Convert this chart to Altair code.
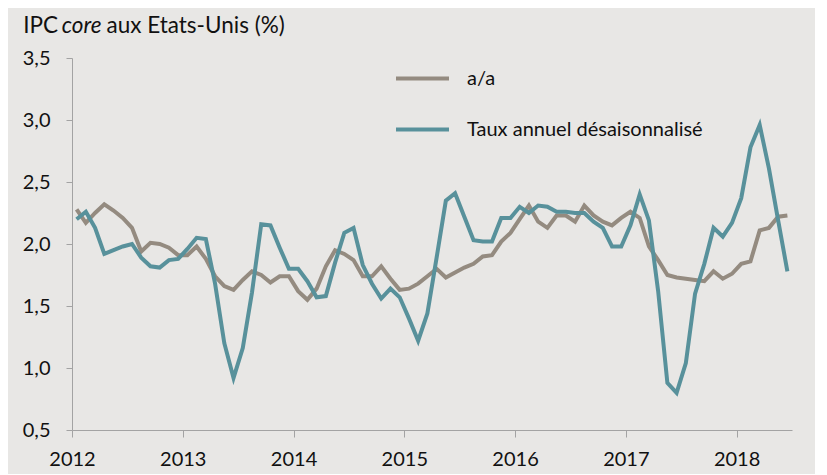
import altair as alt
import pandas as pd

# ---- data ----
start_year = 2012
aa = [2.28, 2.17, 2.25, 2.32, 2.27, 2.21, 2.13, 1.94, 2.01, 2.00, 1.97, 1.91,
      1.91, 1.98, 1.88, 1.74, 1.66, 1.63, 1.71, 1.78, 1.75, 1.69, 1.74, 1.74,
      1.62, 1.55, 1.64, 1.82, 1.95, 1.92, 1.87, 1.74, 1.74, 1.82, 1.72, 1.63,
      1.64, 1.68, 1.74, 1.80, 1.73, 1.77, 1.81, 1.84, 1.90, 1.91, 2.02, 2.09,
      2.20, 2.31, 2.18, 2.13, 2.23, 2.23, 2.18, 2.31, 2.23, 2.18, 2.15, 2.21,
      2.26, 2.21, 1.98, 1.87, 1.75, 1.73, 1.72, 1.71, 1.70, 1.78, 1.72, 1.76,
      1.84, 1.86, 2.11, 2.13, 2.22, 2.23]
taux = [2.20, 2.26, 2.13, 1.92, 1.95, 1.98, 2.00, 1.89, 1.82, 1.81, 1.87, 1.88,
        1.96, 2.05, 2.04, 1.68, 1.20, 0.92, 1.16, 1.61, 2.16, 2.15, 1.97, 1.80,
        1.80, 1.70, 1.57, 1.58, 1.85, 2.09, 2.13, 1.83, 1.68, 1.56, 1.64, 1.57,
        1.40, 1.22, 1.44, 1.89, 2.35, 2.41, 2.22, 2.03, 2.02, 2.02, 2.21, 2.21,
        2.30, 2.25, 2.31, 2.30, 2.26, 2.26, 2.25, 2.25, 2.18, 2.13, 1.98, 1.98,
        2.15, 2.40, 2.19, 1.62, 0.88, 0.80, 1.04, 1.60, 1.84, 2.13, 2.06, 2.17,
        2.37, 2.78, 2.96, 2.61, 2.19, 1.78]
series_names = ["a/a", "Taux annuel désaisonnalisé"]
series_colors = ["#948b80", "#58919b"]
year_ticks = [2012, 2013, 2014, 2015, 2016, 2017, 2018]
y_ticks = [0.5, 1.0, 1.5, 2.0, 2.5, 3.0, 3.5]
title_parts = ["IPC ", "core", " aux Etats-Unis (%)"]

FONT = "Lato"
TXT = "#111111"
n = len(aa)
t = [start_year + (i + 0.5) / 12 for i in range(n)]
df = pd.DataFrame({
    "t": t + t,
    "v": aa + taux,
    "s": [series_names[0]] * n + [series_names[1]] * n,
})

x_enc = alt.X("t:Q", scale=alt.Scale(domain=[2012, 2018.5], nice=False, zero=False),
              axis=alt.Axis(values=year_ticks, format="d", title=None, grid=False,
                            tickSize=7, labelPadding=12, domainColor="#a3a3a3",
                            tickColor="#a3a3a3", labelColor=TXT,
                            labelFont=FONT, labelFontSize=20, labelFlush=False))
y_enc = alt.Y("v:Q", scale=alt.Scale(domain=[0.5, 3.5], nice=False, zero=False),
              axis=alt.Axis(values=y_ticks, title=None, grid=False,
                            labelExpr="replace(format(datum.value, '.1f'), '.', ',')",
                            tickSize=6, labelPadding=16, domainColor="#a3a3a3",
                            tickColor="#a3a3a3", labelColor=TXT,
                            labelFont=FONT, labelFontSize=20))
color_enc = alt.Color("s:N", scale=alt.Scale(domain=series_names, range=series_colors),
                      legend=alt.Legend(title=None, orient="none", legendX=322, legendY=-8,
                                        symbolType="stroke", symbolSize=2809,
                                        symbolStrokeWidth=4, labelFont=FONT,
                                        labelFontSize=20, labelColor=TXT,
                                        labelOffset=16, rowPadding=12, padding=0,
                                        labelLimit=500, direction="vertical"))

base = alt.Chart(df)
line_aa = base.transform_filter(alt.datum.s == series_names[0]).mark_line(
    strokeWidth=4, strokeJoin="miter").encode(x=x_enc, y=y_enc, color=color_enc)
line_taux = base.transform_filter(alt.datum.s == series_names[1]).mark_line(
    strokeWidth=4, strokeJoin="miter").encode(x=x_enc, y=y_enc, color=color_enc)

one = pd.DataFrame({"k": [0]})
TS = 22.5
title_a = alt.Chart(one).mark_text(text=title_parts[0], align="left", baseline="alphabetic",
                                   font=FONT, fontSize=TS, color=TXT).encode(
    x=alt.value(-48.7), y=alt.value(-24.7))
title_b = alt.Chart(one).mark_text(text=title_parts[1], align="left", baseline="alphabetic",
                                   font=FONT, fontSize=TS, fontStyle="italic",
                                   color=TXT).encode(
    x=alt.value(-10.3), y=alt.value(-24.7))
title_c = alt.Chart(one).mark_text(text=title_parts[2], align="left", baseline="alphabetic",
                                   font=FONT, fontSize=TS, color=TXT).encode(
    x=alt.value(34.5), y=alt.value(-24.7))

chart = alt.layer(line_aa, line_taux, title_a, title_b, title_c).properties(
    width=720, height=372,
    autosize=alt.AutoSizeParams(type="none"),
    padding={"left": 64, "top": 50, "right": 23, "bottom": 44},
    background="#e8e7e5",
).configure_view(stroke=None)

chart.save("out.html", embed_options={"renderer": "svg", "actions": False})
